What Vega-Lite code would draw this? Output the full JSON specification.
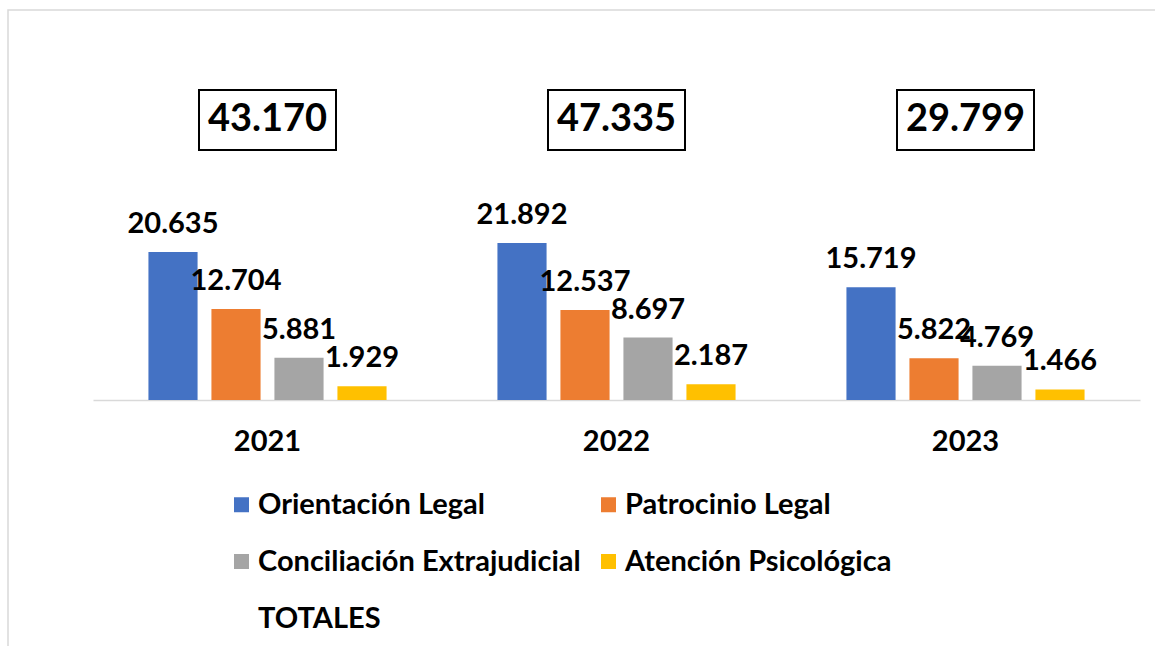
{
  "$schema": "https://vega.github.io/schema/vega-lite/v6.json",
  "width": 1160,
  "height": 640,
  "autosize": {"type": "none"},
  "padding": {"left": 8, "top": 10, "right": 0, "bottom": 0},
  "background": "white",
  "config": {
    "view": {"stroke": "#d9d9d9", "strokeWidth": 1.5},
    "locale": {"number": {"decimal": ",", "thousands": ".", "grouping": [3], "currency": ["", ""]}},
    "font": "Lato"
  },
  "datasets": {
    "bars": [
      {"year": "2021", "category": "Orientación Legal", "value": 20635},
      {"year": "2021", "category": "Patrocinio Legal", "value": 12704},
      {"year": "2021", "category": "Conciliación Extrajudicial", "value": 5881},
      {"year": "2021", "category": "Atención Psicológica", "value": 1929},
      {"year": "2022", "category": "Orientación Legal", "value": 21892},
      {"year": "2022", "category": "Patrocinio Legal", "value": 12537},
      {"year": "2022", "category": "Conciliación Extrajudicial", "value": 8697},
      {"year": "2022", "category": "Atención Psicológica", "value": 2187},
      {"year": "2023", "category": "Orientación Legal", "value": 15719},
      {"year": "2023", "category": "Patrocinio Legal", "value": 5822},
      {"year": "2023", "category": "Conciliación Extrajudicial", "value": 4769},
      {"year": "2023", "category": "Atención Psicológica", "value": 1466}
    ],
    "totals": [
      {"year": "2021", "total": 43170},
      {"year": "2022", "total": 47335},
      {"year": "2023", "total": 29799}
    ]
  },
  "layer": [
    {
      "data": {"name": "bars"},
      "mark": {"type": "bar"},
      "encoding": {
        "x": {
          "field": "year", "type": "nominal",
          "scale": {"type": "band", "range": [85, 1132], "paddingInner": 0, "paddingOuter": 0},
          "axis": {
            "title": null, "orient": "bottom", "offset": -250,
            "domainColor": "#d9d9d9", "domainWidth": 1.5, "ticks": false,
            "labelAngle": 0, "labelFont": "Lato", "labelFontSize": 29, "labelFontWeight": "bold",
            "labelColor": "black", "labelPadding": 27, "labelBaseline": "top"
          }
        },
        "xOffset": {
          "field": "category", "type": "nominal",
          "sort": ["Orientación Legal", "Patrocinio Legal", "Conciliación Extrajudicial", "Atención Psicológica"],
          "scale": {"paddingInner": 0.22, "paddingOuter": 0.88}
        },
        "y": {
          "field": "value", "type": "quantitative",
          "scale": {"domain": [-34860, 54380], "zero": false, "nice": false},
          "axis": null
        },
        "color": {
          "field": "category", "type": "nominal",
          "scale": {
            "domain": ["Orientación Legal", "Patrocinio Legal", "Conciliación Extrajudicial", "Atención Psicológica", "TOTALES"],
            "range": ["#4472C4", "#ED7D31", "#A5A5A5", "#FFC000", "transparent"]
          },
          "legend": {
            "title": null, "orient": "none", "legendX": 219, "legendY": 480,
            "direction": "horizontal",
            "columns": 2, "columnPadding": 13, "rowPadding": 27,
            "symbolType": "square", "symbolSize": 225, "symbolStrokeWidth": 0,
            "labelFont": "Lato", "labelFontSize": 29, "labelFontWeight": "bold",
            "labelColor": "black", "labelOffset": 2, "labelLimit": 0, "padding": 0
          }
        }
      }
    },
    {
      "data": {"name": "bars"},
      "mark": {"type": "text", "baseline": "alphabetic", "align": "center", "dy": -19, "font": "Lato", "fontSize": 29, "fontWeight": "bold", "color": "black"},
      "encoding": {
        "x": {"field": "year", "type": "nominal"},
        "xOffset": {"field": "category", "type": "nominal",
          "sort": ["Orientación Legal", "Patrocinio Legal", "Conciliación Extrajudicial", "Atención Psicológica"]},
        "y": {"field": "value", "type": "quantitative"},
        "text": {"field": "value", "type": "quantitative", "format": ",d"}
      }
    },
    {
      "data": {"name": "totals"},
      "mark": {"type": "bar", "width": 137, "fill": "white", "stroke": "black", "strokeWidth": 2},
      "encoding": {
        "x": {"field": "year", "type": "nominal"},
        "y": {"datum": 34860},
        "y2": {"datum": 43220}
      }
    },
    {
      "data": {"name": "totals"},
      "mark": {"type": "text", "baseline": "middle", "align": "center", "font": "Lato", "fontSize": 38, "fontWeight": "bold", "color": "black"},
      "encoding": {
        "x": {"field": "year", "type": "nominal"},
        "y": {"datum": 39040},
        "text": {"field": "total", "type": "quantitative", "format": ",d"}
      }
    }
  ]
}
